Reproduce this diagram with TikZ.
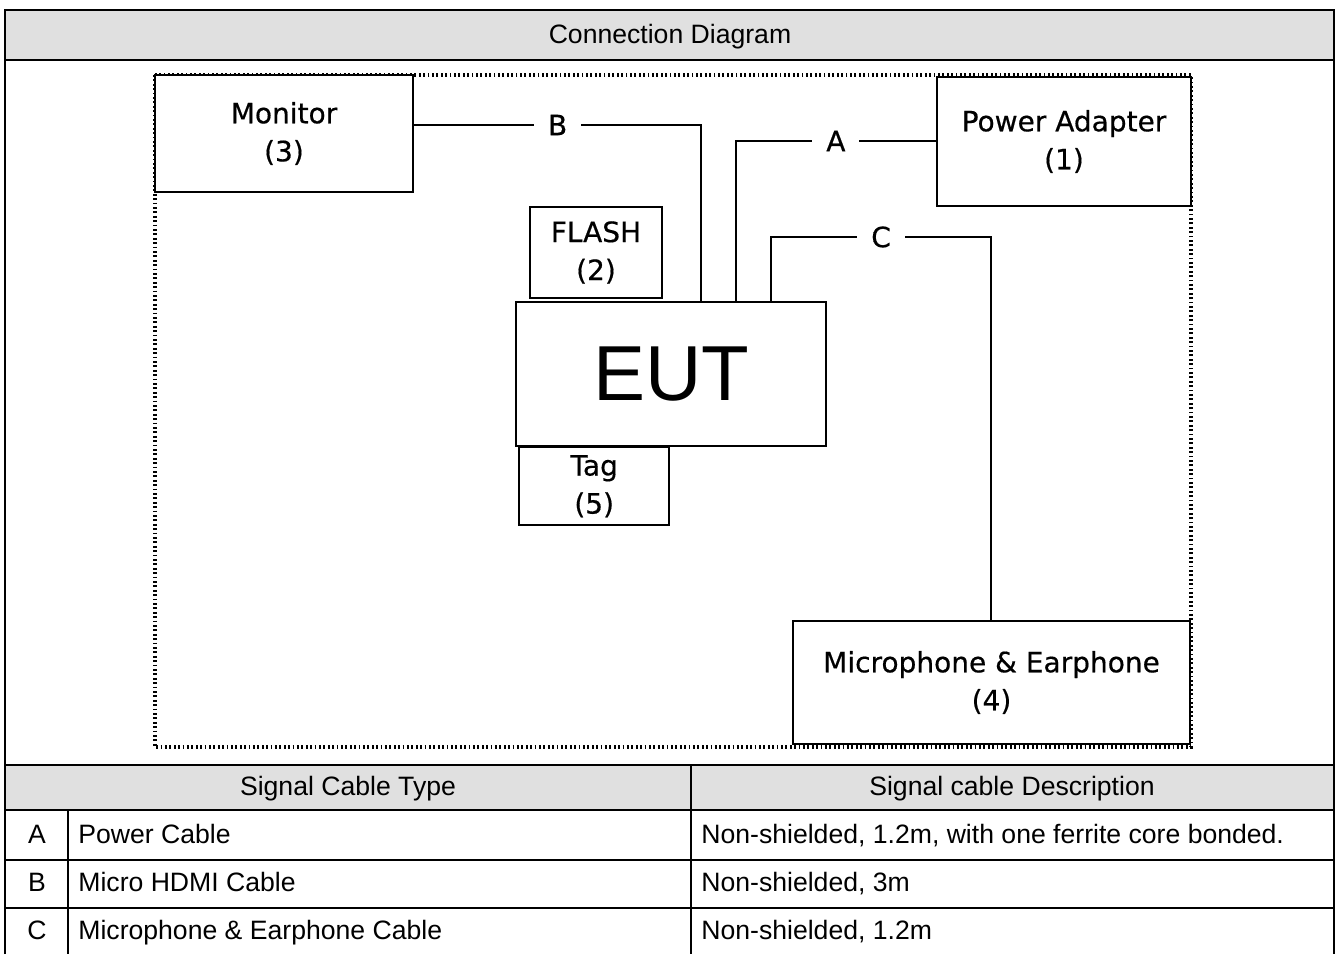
\documentclass[tikz,border=0pt]{standalone}
\usepackage{fontspec}
\setmainfont{Liberation Sans}
\newfontfamily\diagfont[FakeBold=0.5]{DejaVu Sans}
\usetikzlibrary{positioning}
\definecolor{headgray}{RGB}{224,224,224}

\begin{document}
\begin{tikzpicture}[
  x=0.5pt, y=-0.5pt,
  every node/.style={font=\fontsize{13.3}{15}\selectfont},
  unit/.style={draw, line width=1.2pt, fill=white, inner sep=0pt, align=center, font=\diagfont\fontsize{14}{19}\selectfont},
  cable/.style={line width=1pt},
  lab/.style={fill=white, inner xsep=7pt, inner ysep=2pt, font=\diagfont\fontsize{14}{16}\selectfont},
  grid/.style={line width=1pt},
  cell/.style={inner sep=0pt, text height=9.5pt, text depth=2.5pt},
  lcell/.style={cell, anchor=west}
]
\useasboundingbox (0,0) rectangle (1339,954);

% table frame
\fill[headgray] (5,10) rectangle (1334,60);
\fill[headgray] (5,765) rectangle (1334,810);
\draw[grid] (5,954) -- (5,10) -- (1334,10) -- (1334,954);
\foreach \y in {60,765,810,860,908} \draw[grid] (5,\y) -- (1334,\y);
\draw[grid] (691,765) -- (691,954);
\draw[grid] (68,810) -- (68,954);

\node[cell] (title) at (670,36) {Connection Diagram};
\node[cell] (typehd) at (348,788) {Signal Cable Type};
\node[cell] (deschd) at (1012,788) {Signal cable Description};

% cable rows
\node[cell] (keyA) at (37,836) {A};
\node[lcell] (typeA) at (78,836) {Power Cable};
\node[lcell] (descA) at (701,836) {Non-shielded, 1.2m, with one ferrite core bonded.};
\node[cell] (keyB) at (37,884) {B};
\node[lcell] (typeB) at (78,884) {Micro HDMI Cable};
\node[lcell] (descB) at (701,884) {Non-shielded, 3m};
\node[cell] (keyC) at (37,932) {C};
\node[lcell] (typeC) at (78,932) {Microphone \& Earphone Cable};
\node[lcell] (descC) at (701,932) {Non-shielded, 1.2m};

% test set-up
\draw[line width=1.6pt, dash pattern=on 0.9pt off 1.3pt] (155,75) rectangle (1191,747);

\coordinate (bendB) at (701,125);
\coordinate (bendA) at (736,141);
\coordinate (bendC1) at (771,237);
\coordinate (bendC2) at (991,237);

\node[unit, minimum width=129pt, minimum height=58.5pt] (mon) at (284,133.5) {Monitor\\(3)};
\node[unit, minimum width=127pt, minimum height=64.5pt] (pwr) at (1064,141.5) {Power Adapter\\(1)};
\node[unit, minimum width=66pt, minimum height=45.5pt] (flash) at (596,252.5) {FLASH\\(2)};
\node[unit, minimum width=155pt, minimum height=72pt, font=\fontsize{39}{40}\selectfont] (eut) at (671,374) {EUT};
\node[unit, minimum width=75pt, minimum height=39pt, anchor=north west] (tag) at (518,446) {Tag\\(5)};
\node[unit, minimum width=198.5pt, minimum height=61.5pt] (mic) at (991.5,682.5) {Microphone \& Earphone\\(4)};

\draw[cable] (mon.east |- bendB) -- node[lab] {B} (bendB) -- (bendB |- eut.north);
\draw[cable] (bendA |- eut.north) -- (bendA) -- node[lab] {A} (bendA -| pwr.west);
\draw[cable] (bendC1 |- eut.north) -- (bendC1) -- node[lab] {C} (bendC2) -- (bendC2 |- mic.north);

\end{tikzpicture}
\end{document}
